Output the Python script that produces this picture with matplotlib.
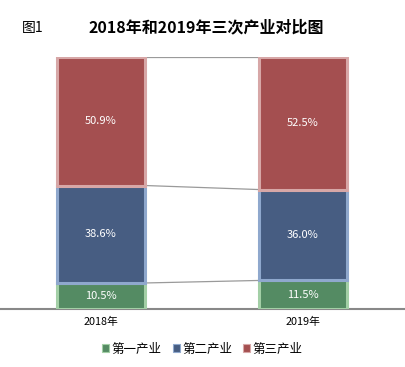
import matplotlib.pyplot as plt
from matplotlib.patches import Patch

plt.rcParams['font.family'] = ['Noto Sans CJK SC', 'DejaVu Sans']

years = ["2018年", "2019年"]
series = ["第一产业", "第二产业", "第三产业"]
primary = [10.5, 11.5]
secondary = [38.6, 36.0]
tertiary = [50.9, 52.5]

fills = ["#548B63", "#475D82", "#A44F50"]
edges = ["#A3CFA6", "#8FA8CD", "#D7A7A7"]

fig = plt.figure(figsize=(4.05, 3.67), dpi=100)
ax = fig.add_axes([0, 0.1567, 1, 0.688])

x = [0, 1]
width = 0.436
bottom = [0, 0]
tops = []
for vals, fc, ec in zip([primary, secondary, tertiary], fills, edges):
    ax.bar(x, vals, width, bottom=bottom, color=fc, edgecolor=ec, linewidth=2.2, zorder=3)
    for xi, v, b in zip(x, vals, bottom):
        ax.text(xi, b + v / 2, f"{v:.1f}%", ha='center', va='center', color='white',
                fontsize=8, zorder=4)
    bottom = [b + v for b, v in zip(bottom, vals)]
    tops.append(list(bottom))

# series lines between bars
for t in tops:
    ax.plot([x[0] + width / 2, x[1] - width / 2], t, color='#9A9A9A', lw=0.9, zorder=2)

ax.set_xlim(-0.5, 1.505)
ax.set_ylim(0, 100)
ax.set_yticks([])
ax.set_xticks(x)
ax.set_xticklabels(years, fontsize=7.8)
ax.tick_params(axis='x', length=0, pad=5)
for s in ['top', 'left', 'right']:
    ax.spines[s].set_visible(False)
ax.spines['bottom'].set_color('#888888')
ax.spines['bottom'].set_linewidth(1.5)

fig.text(0.054, 0.925, "图1", fontsize=10, va='center')
fig.text(0.51, 0.925, "2018年和2019年三次产业对比图", fontsize=11.5, fontweight='bold',
         ha='center', va='center')

handles = [Patch(facecolor=fc, edgecolor=ec, lw=0.8) for fc, ec in zip(fills, edges)]
fig.legend(handles, series, loc='center', bbox_to_anchor=(0.5, 0.049), ncol=3, frameon=False,
           fontsize=9, handlelength=0.55, handleheight=0.55, handletextpad=0.2, columnspacing=0.9)

fig.savefig("out.png", dpi=100)
